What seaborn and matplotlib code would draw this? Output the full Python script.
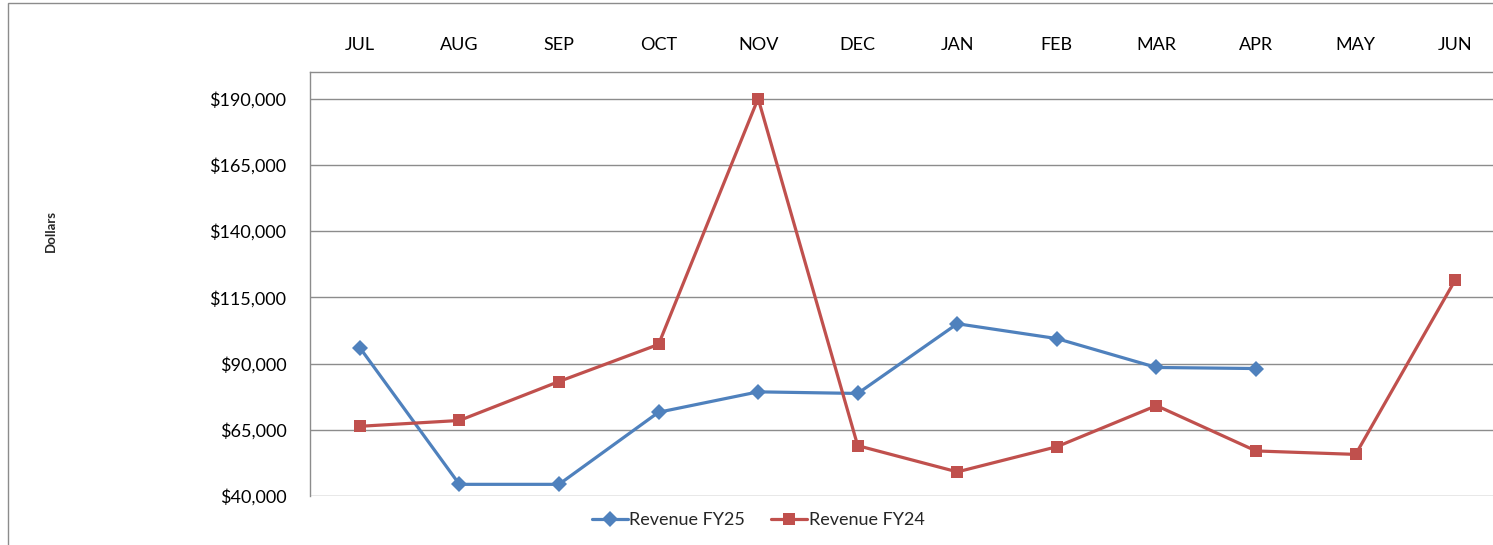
import matplotlib
matplotlib.use("Agg")
import matplotlib.pyplot as plt
import matplotlib.patches as mpatches
import seaborn as sns
import pandas as pd
from matplotlib.ticker import FuncFormatter

# Data
months = ['JUL', 'AUG', 'SEP', 'OCT', 'NOV', 'DEC', 'JAN', 'FEB', 'MAR', 'APR', 'MAY', 'JUN']
revenue_fy25 = [96000, 44400, 44400, 71600, 79300, 78700, 105000, 99400, 88500, 88100]
revenue_fy24 = [66300, 68500, 83200, 97200, 190000, 59000, 49100, 58600, 74100, 57000, 55700, 121500]
y_ticks = [40000, 65000, 90000, 115000, 140000, 165000, 190000]

# Step 1: long-form frame for seaborn
rows = []
for m, v in zip(months, revenue_fy25):
    rows.append({"month": m, "value": v, "series": "Revenue FY25"})
for m, v in zip(months, revenue_fy24):
    rows.append({"month": m, "value": v, "series": "Revenue FY24"})
df = pd.DataFrame(rows)

sns.set_style("white")
plt.rcParams['font.family'] = ['Lato', 'DejaVu Sans']

fig = plt.figure(figsize=(14.93, 5.45), dpi=100)
ax = fig.add_axes([310 / 1493, 49 / 545, 1195 / 1493, 424 / 545])

# categorical order fixed by plotting an invisible first pass of all months
ax.plot(months, [None] * len(months), alpha=0)

sns.lineplot(data=df, x="month", y="value", hue="series", style="series",
             palette={"Revenue FY25": "#4F81BD", "Revenue FY24": "#C0504D"},
             markers={"Revenue FY25": "D", "Revenue FY24": "s"},
             dashes=False, sort=False, linewidth=2.3, markersize=8,
             markeredgewidth=0, ax=ax)

ax.set_xlim(-0.5, 11.5)
ax.set_ylim(40000, 200000)
ax.set_yticks(y_ticks)
ax.yaxis.set_major_formatter(FuncFormatter(lambda v, p: f"${v:,.0f}"))
ax.yaxis.grid(True, color="#8c8c8c", linewidth=1)
ax.xaxis.grid(False)
ax.set_axisbelow(True)

ax.xaxis.tick_top()
ax.tick_params(axis='x', length=0, pad=14, labelsize=13, colors="#000000")
ax.tick_params(axis='y', length=0, pad=17, labelsize=13, colors="#000000")
ax.set_xlabel("")
ax.set_ylabel("")

for side in ["right", "bottom"]:
    ax.spines[side].set_visible(False)
for side in ["left", "top"]:
    ax.spines[side].set_color("#8c8c8c")
    ax.spines[side].set_linewidth(1)

fig.text(51 / 1493, 1 - 231 / 545, "Dollars", rotation=90, fontsize=9.5,
         fontweight="bold", ha="center", va="center")

handles, labels = ax.get_legend_handles_labels()
ax.legend(handles, labels, loc="center", bbox_to_anchor=(758 / 1493, 1 - 520 / 545),
          bbox_transform=fig.transFigure, ncol=2, frameon=False, fontsize=13,
          handlelength=2.0, handletextpad=0.1, columnspacing=1.4)

# outer chart border (cut off at right and bottom like the reference)
fig.patches.append(mpatches.Rectangle((8 / 1493, -0.1), 1.2, 1 - 3 / 545 + 0.1,
                                      transform=fig.transFigure, fill=False,
                                      edgecolor="#8c8c8c", linewidth=1))

fig.savefig("out.png", dpi=100)
